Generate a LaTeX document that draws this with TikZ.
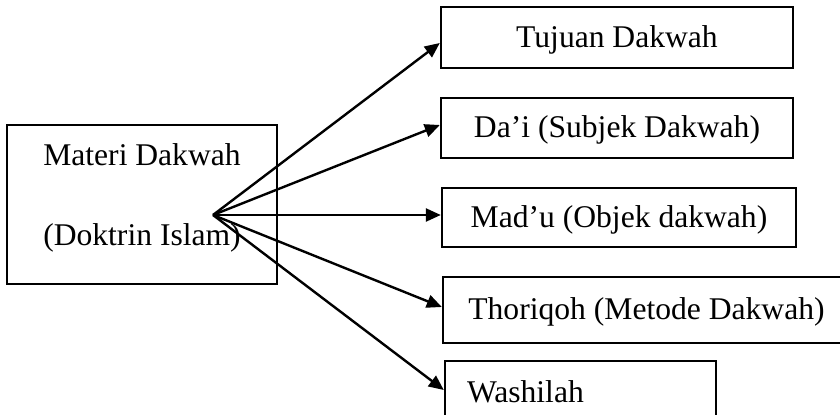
\documentclass[tikz,border=0pt]{standalone}
\usepackage{fontspec}
\setmainfont{Liberation Serif}
\usepackage{tikz}
\usetikzlibrary{arrows.meta,positioning}

\begin{document}
\begin{tikzpicture}[x=0.5pt,y=-0.5pt,line width=1.2pt,
				font=\fontsize{15.8}{19}\selectfont,
				box/.style={draw,rectangle,inner sep=0pt,text height=11pt,text depth=1pt},
				>={Triangle[length=7.5pt,width=6.5pt]}]
				\clip (0,0) rectangle (840,415);
				\node[box,minimum width=135pt,minimum height=79.5pt,align=center,text height=,text depth=]
					(s_m) at (142,204.5) {Materi Dakwah\\[21pt](Doktrin Islam)\rule[-10.3pt]{0pt}{0pt}};
				\coordinate (s_h) at (213,215);
				\node[box,minimum width=176pt,minimum height=30.5pt] (s_t) at (617,37.5) {Tujuan Dakwah};
				\node[box,minimum width=176pt,minimum height=30pt] (s_d) at (617,128) {Da’i (Subjek Dakwah)};
				\node[box,minimum width=177pt,minimum height=29.5pt] (s_o) at (619,217.5) {Mad’u (Objek dakwah)};
				\node[box,minimum width=203.5pt,minimum height=33pt] (s_r) at (646.5,310) {Thoriqoh (Metode Dakwah)};
				\node[box,minimum height=32pt,inner xsep=11pt,text width=113.5pt,align=left] (s_w) at (580.5,393) {Washilah};
				\path[->]
				(s_h)
				edge ([yshift=-2.75pt]s_t.west)
				edge ([yshift=1.5pt]s_d.west)
				edge ([yshift=1.25pt]s_o.west)
				edge ([yshift=1.5pt]s_r.west)
				edge ([yshift=1.5pt]s_w.west);
			\end{tikzpicture}
\end{document}
